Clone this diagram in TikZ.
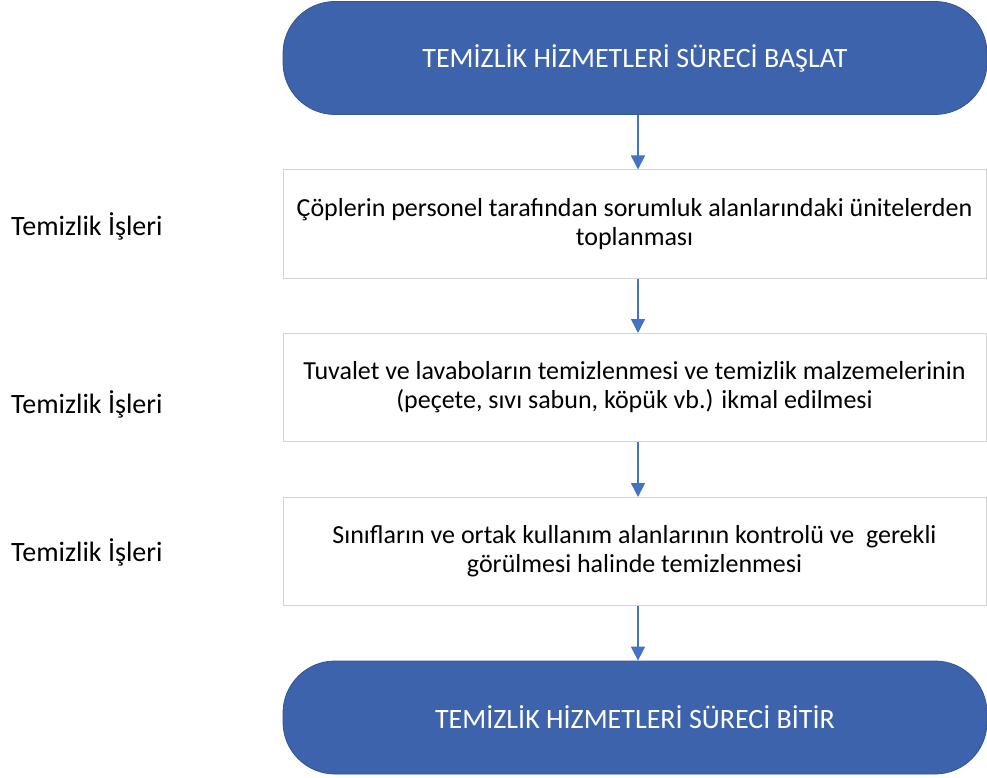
\documentclass[tikz,border=0pt]{standalone}
\usepackage{fontspec}
\setmainfont{Carlito}
\usetikzlibrary{arrows.meta}
\definecolor{termfill}{HTML}{3D63AC}
\definecolor{arrowcol}{HTML}{4472C4}
\definecolor{boxline}{HTML}{D4D4D4}
\begin{document}
\begin{tikzpicture}[x=1pt,y=-1pt,
  term/.style={draw=termfill!85!black, line width=0.8pt, fill=termfill, rounded corners=52pt, minimum width=704pt, minimum height=113pt, inner sep=0pt, text=white, font=\fontsize{28}{32}\selectfont},
  stepbox/.style={draw=boxline, line width=1pt, fill=white, minimum width=703pt, minimum height=108pt, inner sep=0pt, align=center, font=\fontsize{26}{29}\selectfont},
  side/.style={anchor=west, inner sep=0pt, font=\fontsize{28}{32}\selectfont},
  flow/.style={draw=arrowcol, line width=1.5pt, -{Triangle[length=14pt,width=14pt]}}
]
\useasboundingbox (0,0) rectangle (987,778);
\node[term] (start) at (635,58) {TEMİZLİK HİZMETLERİ SÜRECİ BAŞLAT};
\node[stepbox] (s1) at (634.5,224) {Çöplerin personel tarafından sorumluk alanlarındaki ünitelerden\\toplanması};
\node[stepbox] (s2) at (634.5,387.5) {Tuvalet ve lavaboların temizlenmesi ve temizlik malzemelerinin\\(peçete, sıvı sabun, köpük vb.) ikmal edilmesi};
\node[stepbox] (s3) at (634.5,551.5) {Sınıfların ve ortak kullanım alanlarının kontrolü ve\ \ gerekli\\görülmesi halinde temizlenmesi};
\node[term] (end) at (635,717.5) {TEMİZLİK HİZMETLERİ SÜRECİ BİTİR};
\node[side] (l1) at (11,226) {Temizlik İşleri};
\node[side] (l2) at (11,404) {Temizlik İşleri};
\node[side] (l3) at (11,552) {Temizlik İşleri};
\draw[flow] (start.south -| 638,0) -- (s1.north -| 638,0);
\draw[flow] (s1.south -| 638,0) -- (s2.north -| 638,0);
\draw[flow] (s2.south -| 638,0) -- (s3.north -| 638,0);
\draw[flow] (s3.south -| 638,0) -- (end.north -| 638,0);
\end{tikzpicture}
\end{document}
